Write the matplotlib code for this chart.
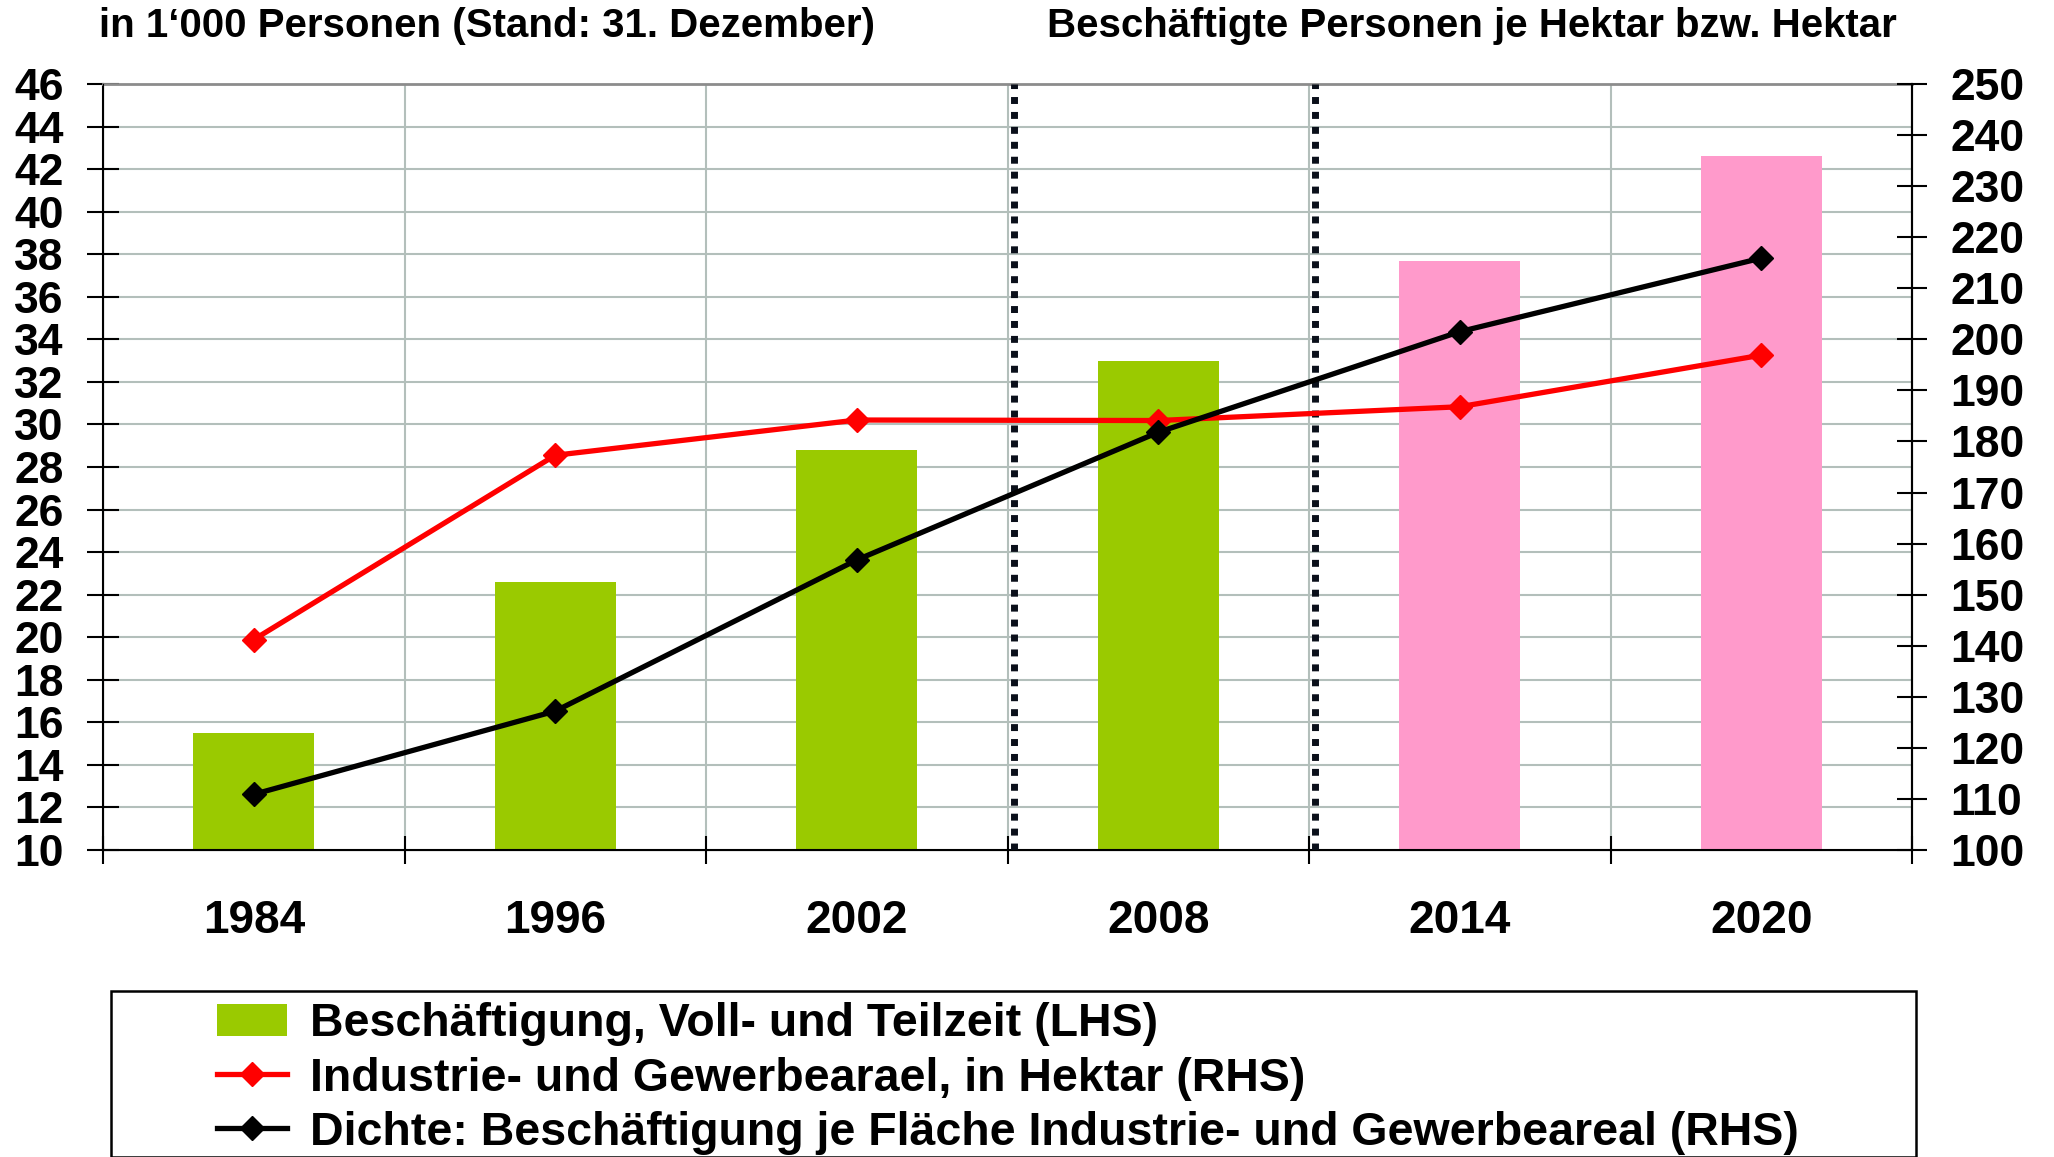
"""Beschäftigung vs Industrie- und Gewerbeareal, Dichte je Hektar."""
import matplotlib
matplotlib.use('Agg')
import matplotlib.pyplot as plt
from matplotlib.lines import Line2D
from matplotlib.patches import Patch, Rectangle

plt.rcParams['font.family'] = ['Liberation Sans', 'DejaVu Sans']
plt.rcParams['font.weight'] = 'bold'

# ── data ──────────────────────────────────────────────────
years = ['1984', '1996', '2002', '2008', '2014', '2020']
beschaeftigung = [15.5, 22.6, 28.8, 33.0, 37.7, 42.6]      # LHS, in 1'000
areal_ha = [141.2, 177.3, 184.2, 184.1, 186.8, 196.9]      # RHS, Hektar
dichte = [110.9, 127.2, 156.8, 181.8, 201.5, 215.9]        # RHS, Personen/ha
last_actual = '2008'   # later bars are shown in pink
marked_breaks = ['2008', '2014']   # dotted separators before these years

GREEN = '#9ACA00'
PINK = '#FF9ACB'
GRID = '#B3BFBB'

fig = plt.figure(figsize=(20.54, 11.57), dpi=100)
fig.patch.set_facecolor('white')
ax = fig.add_axes([103 / 2054, 1 - 850 / 1157, (1912 - 103) / 2054, (850 - 84) / 1157])
ax2 = ax.twinx()

x = list(range(len(years)))
bar_cols = [GREEN if int(y) <= int(last_actual) else PINK for y in years]
ax.bar(x, beschaeftigung, width=0.4, bottom=0, color=bar_cols, zorder=2)

ax.set_xlim(-0.5, len(years) - 0.5)
ax.set_ylim(10, 46)
ax.set_yticks(range(10, 47, 2))

# grid: horizontal every 2, vertical at category boundaries
for v in range(12, 46, 2):
    ax.axhline(v, color=GRID, lw=1.5, zorder=0)
for b in range(1, len(years)):
    ax.axvline(b - 0.5, color=GRID, lw=1.5, zorder=0)
for yr in marked_breaks:
    i = years.index(yr)
    ax.axvline(i - 0.5 + 0.02, color='#0A0F1A', lw=5, dashes=(1, 1.15),
               dash_capstyle='butt', zorder=3)

# x ticks: boundaries (major) and labels at centers (minor)
ax.set_xticks([b - 0.5 for b in range(len(years) + 1)])
ax.set_xticklabels([])
ax.set_xticks(x, minor=True)
ax.set_xticklabels(years, minor=True, fontsize=33, fontweight='bold')
ax.tick_params(axis='x', which='major', direction='inout', length=20, width=1.5)
ax.tick_params(axis='x', which='minor', length=0, pad=35)
ax.tick_params(axis='y', direction='inout', length=23, width=1.5, pad=17, labelsize=32)

for s in ['left', 'right', 'bottom']:
    ax.spines[s].set_color('black')
    ax.spines[s].set_linewidth(1.5)
ax.spines['top'].set_color('#8C8C8C')
ax.spines['top'].set_linewidth(2)

# RHS lines
ax2.plot(x, areal_ha, color='#FF0000', lw=3.8, marker='D', ms=12.5, zorder=4)
ax2.plot(x, dichte, color='black', lw=3.8, marker='D', ms=12.5, zorder=5)
ax2.set_ylim(100, 250)
ax2.set_yticks(range(100, 251, 10))
ax2.tick_params(axis='y', direction='inout', length=21, width=1.5, pad=17, labelsize=32)
for lab in ax.get_yticklabels() + ax2.get_yticklabels():
    lab.set_fontweight('bold')
ax2.spines['right'].set_linewidth(1.5)
ax2.spines['top'].set_visible(False)

# titles above the axes
fig.text(99 / 2054, 1 - 37 / 1157, 'in 1\u2018000 Personen (Stand: 31. Dezember)',
         ha='left', va='baseline', fontsize=29, fontweight='bold')
fig.text(1897 / 2054, 1 - 37 / 1157, 'Beschäftigte Personen je Hektar bzw. Hektar',
         ha='right', va='baseline', fontsize=29, fontweight='bold')

# legend in a framed box at the bottom
handles = [
    Patch(facecolor=GREEN, edgecolor='none'),
    Line2D([], [], color='#FF0000', lw=3.8, marker='D', ms=12.5),
    Line2D([], [], color='black', lw=3.8, marker='D', ms=12.5),
]
labels = ['Beschäftigung, Voll- und Teilzeit (LHS)',
          'Industrie- und Gewerbearael, in Hektar (RHS)',
          'Dichte: Beschäftigung je Fläche Industrie- und Gewerbeareal (RHS)']
fig.patches.append(Rectangle((111 / 2054, 0.0), (1916 - 111) / 2054, (1157 - 991) / 1157,
                             transform=fig.transFigure, facecolor='white',
                             edgecolor='black', lw=1.8, zorder=0))
fig.legend(handles, labels, loc='upper left', bbox_to_anchor=(208 / 2054, 1 - 993 / 1157),
           frameon=False, handlelength=1.5, handletextpad=0.5,
           labelspacing=0.22, borderpad=0.2, borderaxespad=0,
           prop={'weight': 'bold', 'size': 33.5})

plt.savefig('out.png', dpi=100, facecolor='white')
